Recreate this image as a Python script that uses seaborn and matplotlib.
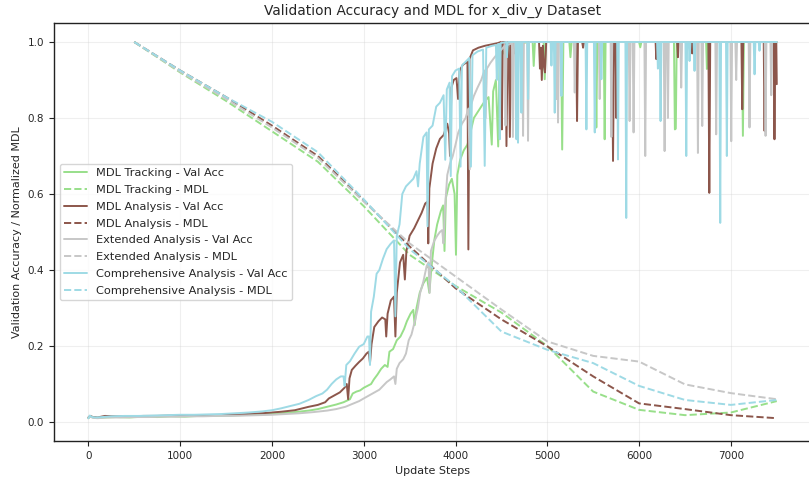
import matplotlib
matplotlib.use("Agg")
import matplotlib.pyplot as plt
import seaborn as sns
import pandas as pd

# ---------------- data ----------------
mdl_steps = [500, 1000, 1500, 2000, 2500, 3000, 3500, 4000, 4500, 5000, 5500, 6000, 6500, 7000, 7500]

tracking_mdl = [1.0, 0.92, 0.845, 0.765, 0.685, 0.568, 0.44, 0.358, 0.288, 0.20, 0.08, 0.032, 0.018, 0.025, 0.055]
analysis_mdl = [1.0, 0.925, 0.855, 0.78, 0.70, 0.583, 0.462, 0.352, 0.27, 0.199, 0.12, 0.049, 0.034, 0.018, 0.010]
extended_mdl = [1.0, 0.922, 0.85, 0.775, 0.695, 0.58, 0.47, 0.383, 0.296, 0.212, 0.174, 0.159, 0.099, 0.076, 0.060]
comprehensive_mdl = [1.0, 0.925, 0.855, 0.79, 0.71, 0.586, 0.455, 0.357, 0.238, 0.19, 0.155, 0.095, 0.058, 0.045, 0.058]

tracking_acc = [
    (0, 0.010), (20, 0.015), (50, 0.012), (100, 0.011), (200, 0.012), (300, 0.013), (450, 0.012),
    (600, 0.014), (750, 0.013), (900, 0.015), (1050, 0.014), (1200, 0.016), (1350, 0.016),
    (1500, 0.017), (1650, 0.018), (1800, 0.019), (1950, 0.021), (2100, 0.023), (2250, 0.026),
    (2400, 0.030), (2500, 0.034), (2600, 0.040), (2700, 0.046), (2780, 0.052), (2850, 0.060),
    (2880, 0.075), (2920, 0.080), (2960, 0.083), (3000, 0.090), (3040, 0.095), (3080, 0.100),
    (3110, 0.112), (3150, 0.125), (3190, 0.140), (3230, 0.150), (3260, 0.145), (3280, 0.185),
    (3320, 0.192), (3360, 0.215), (3400, 0.225), (3440, 0.245), (3470, 0.265), (3510, 0.285),
    (3540, 0.295), (3555, 0.255), (3575, 0.300), (3610, 0.340), (3650, 0.365), (3690, 0.380),
    (3715, 0.340), (3735, 0.400), (3770, 0.480), (3800, 0.520), (3840, 0.555), (3865, 0.570),
    (3880, 0.450), (3895, 0.590), (3930, 0.625), (3960, 0.640), (3990, 0.600), (4005, 0.440),
    (4020, 0.650), (4050, 0.690), (4090, 0.715), (4130, 0.730), (4170, 0.770), (4200, 0.800),
    (4240, 0.815), (4280, 0.830), (4320, 0.845), (4360, 0.855), (4395, 0.730), (4410, 0.870),
    (4440, 0.900), (4465, 0.725), (4480, 0.960), (4520, 0.975), (4560, 0.955), (4580, 0.985),
    (4640, 0.975), (4660, 0.990), (4720, 0.995), (4780, 1.0),
    (4840, 1.0), (4852, 0.937), (4865, 1.0), (4960, 1.0), (4972, 0.902), (4985, 1.0),
    (5150, 1.0), (5162, 0.717), (5175, 1.0), (5240, 1.0), (5252, 0.960), (5265, 1.0),
    (5525, 1.0), (5534, 0.775), (5545, 1.0), (5615, 1.0), (5625, 0.744), (5635, 1.0),
    (6000, 1.0), (6013, 0.986), (6025, 1.0), (6380, 1.0), (6390, 0.770), (6400, 0.772), (6410, 1.0),
    (6730, 1.0), (6739, 0.929), (6750, 1.0), (7120, 1.0), (7131, 0.753), (7142, 1.0), (7500, 1.0),
]

analysis_acc = [
    (0, 0.012), (20, 0.016), (50, 0.013), (100, 0.012), (180, 0.016), (300, 0.015), (450, 0.015),
    (600, 0.016), (750, 0.016), (900, 0.017), (1050, 0.017), (1200, 0.017), (1350, 0.018),
    (1500, 0.019), (1650, 0.020), (1800, 0.022), (1950, 0.024), (2100, 0.027), (2250, 0.031),
    (2400, 0.040), (2500, 0.045), (2580, 0.052), (2620, 0.062), (2680, 0.070), (2740, 0.078),
    (2790, 0.090), (2815, 0.100), (2830, 0.060), (2845, 0.115), (2870, 0.137), (2910, 0.148),
    (2950, 0.158), (2990, 0.167), (3030, 0.180), (3055, 0.185), (3068, 0.155), (3085, 0.205),
    (3115, 0.250), (3160, 0.265), (3200, 0.275), (3235, 0.270), (3245, 0.225), (3260, 0.285),
    (3295, 0.320), (3330, 0.330), (3345, 0.225), (3360, 0.340), (3395, 0.420), (3430, 0.440),
    (3448, 0.375), (3465, 0.450), (3500, 0.490), (3550, 0.510), (3590, 0.530), (3630, 0.550),
    (3670, 0.575), (3695, 0.580), (3703, 0.470), (3715, 0.615), (3750, 0.680), (3790, 0.720),
    (3830, 0.745), (3870, 0.755), (3910, 0.785), (3930, 0.760), (3940, 0.700), (3955, 0.880),
    (3980, 0.900), (4010, 0.905), (4028, 0.850), (4045, 0.925), (4080, 0.940), (4110, 0.945),
    (4130, 0.948), (4140, 0.454), (4152, 0.955), (4190, 0.978), (4250, 0.985), (4320, 0.990),
    (4400, 0.994), (4460, 0.997), (4495, 1.0), (4505, 0.770), (4515, 1.0), (4545, 1.0),
    (4555, 0.726), (4568, 1.0), (4580, 1.0), (4592, 0.750), (4605, 1.0), (4630, 1.0),
    (4640, 0.970), (4650, 1.0), (4910, 1.0), (4920, 0.930), (4930, 0.985), (4940, 0.900),
    (4952, 0.990), (4962, 0.940), (4975, 0.920), (4988, 1.0), (5315, 1.0), (5324, 0.792),
    (5334, 1.0), (5380, 1.0), (5390, 0.985), (5400, 1.0), (5705, 1.0), (5716, 0.687),
    (5727, 1.0), (5745, 1.0), (5752, 0.800), (5760, 1.0), (6180, 1.0), (6187, 0.955),
    (6195, 1.0), (6415, 1.0), (6423, 0.960), (6431, 1.0), (6570, 1.0), (6579, 0.970),
    (6588, 1.0), (6755, 1.0), (6765, 0.603), (6775, 1.0), (7115, 1.0), (7124, 0.823),
    (7134, 1.0), (7358, 1.0), (7367, 0.766), (7376, 1.0), (7466, 1.0), (7475, 0.744),
    (7485, 1.0), (7495, 1.0), (7500, 0.889),
]

extended_acc = [
    (0, 0.010), (20, 0.014), (50, 0.011), (100, 0.010), (200, 0.012), (350, 0.012), (500, 0.013),
    (650, 0.013), (800, 0.014), (950, 0.014), (1100, 0.015), (1250, 0.015), (1400, 0.016),
    (1550, 0.016), (1700, 0.017), (1850, 0.018), (2000, 0.019), (2150, 0.021), (2300, 0.023),
    (2450, 0.026), (2600, 0.030), (2700, 0.034), (2800, 0.040), (2880, 0.048), (2950, 0.055),
    (3000, 0.062), (3060, 0.070), (3120, 0.078), (3170, 0.085), (3210, 0.095), (3250, 0.105),
    (3290, 0.112), (3330, 0.120), (3345, 0.100), (3360, 0.140), (3390, 0.155), (3430, 0.165),
    (3460, 0.180), (3490, 0.215), (3520, 0.230), (3560, 0.268), (3590, 0.300), (3615, 0.340),
    (3650, 0.370), (3685, 0.410), (3705, 0.420), (3718, 0.340), (3732, 0.450), (3765, 0.475),
    (3800, 0.490), (3830, 0.500), (3855, 0.505), (3868, 0.470), (3885, 0.560), (3910, 0.650),
    (3940, 0.680), (3970, 0.700), (4000, 0.730), (4030, 0.762), (4070, 0.785), (4110, 0.800),
    (4140, 0.825), (4155, 0.665), (4170, 0.835), (4200, 0.858), (4240, 0.880), (4280, 0.900),
    (4315, 0.925), (4328, 0.800), (4342, 0.930), (4380, 0.945), (4420, 0.958), (4460, 0.970),
    (4500, 0.980), (4535, 0.990), (4545, 0.780), (4556, 0.992), (4600, 0.995), (4615, 1.0),
    (4625, 0.750), (4638, 1.0),
    (4727, 1.0), (4736, 0.753), (4745, 1.0), (4781, 1.0), (4790, 0.740), (4800, 1.0),
    (5090, 1.0), (5099, 0.850), (5108, 1.0), (5117, 0.788), (5127, 1.0), (5290, 1.0),
    (5299, 0.867), (5308, 1.0), (5562, 1.0), (5571, 0.850), (5580, 1.0), (5690, 1.0),
    (5698, 0.750), (5707, 1.0), (5888, 1.0), (5897, 0.792), (5906, 1.0), (5931, 1.0),
    (5940, 0.762), (5949, 1.0), (6058, 1.0), (6067, 0.700), (6076, 1.0), (6269, 1.0),
    (6278, 0.713), (6287, 1.0), (6305, 1.0), (6314, 0.800), (6323, 1.0), (6450, 1.0),
    (6459, 0.880), (6468, 1.0), (6632, 1.0), (6641, 0.708), (6650, 1.0), (6679, 1.0),
    (6688, 0.779), (6697, 1.0), (6831, 1.0), (6840, 0.757), (6849, 1.0), (6995, 1.0),
    (7004, 0.739), (7013, 1.0), (7049, 1.0), (7058, 0.900), (7067, 1.0), (7194, 1.0),
    (7203, 0.775), (7212, 1.0), (7369, 1.0), (7378, 0.753), (7387, 1.0), (7431, 1.0),
    (7440, 0.860), (7449, 1.0), (7500, 1.0),
]

comprehensive_acc = [
    (0, 0.010), (15, 0.017), (40, 0.013), (80, 0.012), (150, 0.013), (250, 0.015), (400, 0.016),
    (550, 0.016), (700, 0.017), (850, 0.018), (1000, 0.019), (1150, 0.019), (1300, 0.020),
    (1450, 0.021), (1600, 0.023), (1750, 0.025), (1900, 0.028), (2000, 0.031), (2100, 0.036),
    (2200, 0.042), (2300, 0.048), (2400, 0.058), (2480, 0.068), (2550, 0.075), (2600, 0.085),
    (2650, 0.100), (2700, 0.112), (2750, 0.120), (2780, 0.120), (2792, 0.095), (2810, 0.150),
    (2850, 0.160), (2900, 0.180), (2950, 0.198), (3000, 0.205), (3040, 0.225), (3058, 0.225),
    (3068, 0.150), (3080, 0.290), (3110, 0.330), (3140, 0.390), (3170, 0.400), (3210, 0.430),
    (3250, 0.455), (3290, 0.468), (3330, 0.478), (3345, 0.278), (3360, 0.490), (3390, 0.520),
    (3420, 0.600), (3460, 0.620), (3500, 0.630), (3540, 0.640), (3575, 0.660), (3592, 0.620),
    (3610, 0.680), (3650, 0.750), (3685, 0.762), (3695, 0.515), (3710, 0.770), (3750, 0.780),
    (3790, 0.830), (3830, 0.840), (3870, 0.860), (3888, 0.690), (3905, 0.875), (3935, 0.893),
    (3948, 0.647), (3962, 0.910), (4000, 0.925), (4040, 0.930), (4055, 0.672), (4070, 0.938),
    (4110, 0.948), (4150, 0.958), (4168, 0.672), (4185, 0.965), (4240, 0.975), (4300, 0.980),
    (4318, 0.674), (4335, 0.985), (4400, 0.990), (4440, 0.992), (4450, 0.900), (4460, 0.994),
    (4475, 0.995), (4482, 0.744), (4492, 0.997), (4550, 1.0), (4560, 0.960), (4570, 1.0),
    (4655, 1.0), (4664, 0.744), (4672, 1.0), (4681, 0.735), (4690, 1.0), (4709, 1.0),
    (4718, 0.814), (4727, 1.0), (4782, 1.0), (4791, 0.850), (4800, 1.0), (5036, 1.0),
    (5045, 0.938), (5054, 1.0), (5072, 1.0), (5081, 0.814), (5090, 1.0), (5145, 1.0),
    (5154, 0.858), (5163, 1.0), (5417, 1.0), (5426, 0.770), (5435, 1.0), (5508, 1.0),
    (5517, 0.762), (5526, 1.0), (5580, 1.0), (5589, 0.902), (5598, 1.0), (5761, 1.0),
    (5770, 0.691), (5779, 1.0), (5851, 1.0), (5860, 0.537), (5869, 1.0), (6196, 1.0),
    (6205, 0.930), (6214, 1.0), (6225, 1.0), (6234, 0.792), (6243, 1.0), (6505, 1.0),
    (6514, 0.700), (6523, 1.0), (6541, 1.0), (6550, 0.950), (6559, 1.0), (6595, 1.0),
    (6604, 0.924), (6613, 1.0), (6875, 1.0), (6884, 0.524), (6893, 1.0), (6947, 1.0),
    (6956, 0.700), (6965, 1.0), (7249, 1.0), (7258, 0.915), (7267, 1.0), (7303, 1.0),
    (7312, 0.977), (7321, 1.0), (7500, 1.0),
]

run_names = ["MDL Tracking", "MDL Analysis", "Extended Analysis", "Comprehensive Analysis"]
run_colors = ["#98df8a", "#8c564b", "#c7c7c7", "#9edae5"]
acc_series = [tracking_acc, analysis_acc, extended_acc, comprehensive_acc]
mdl_series = [tracking_mdl, analysis_mdl, extended_mdl, comprehensive_mdl]

# ---------------- plot ----------------
sns.set_style("ticks")
plt.rcParams["font.family"] = ["DejaVu Sans"]

fig = plt.figure(figsize=(8.09, 4.78), dpi=100)
ax = fig.add_axes([0.0667, 0.0774, 0.936, 0.8745])

for name, color, acc, mdl in zip(run_names, run_colors, acc_series, mdl_series):
    df = pd.DataFrame(acc, columns=["step", "acc"])
    sns.lineplot(data=df, x="step", y="acc", color=color, linewidth=1.4,
                 label=f"{name} - Val Acc", errorbar=None, ax=ax)
    dm = pd.DataFrame({"step": mdl_steps, "mdl": mdl})
    sns.lineplot(data=dm, x="step", y="mdl", color=color, linewidth=1.4,
                 linestyle="--", label=f"{name} - MDL", errorbar=None, ax=ax)

ax.set_xlim(-375, 7875)
ax.set_ylim(-0.05, 1.05)
ax.set_xticks([0, 1000, 2000, 3000, 4000, 5000, 6000, 7000])
ax.set_yticks([0.0, 0.2, 0.4, 0.6, 0.8, 1.0])
ax.grid(True, alpha=0.3)
for s in ax.spines.values():
    s.set_visible(True)
    s.set_color("#222222")
    s.set_linewidth(1.0)
ax.tick_params(labelsize=7.5, length=3.5, color="#222222")
ax.set_xlabel("Update Steps", fontsize=8)
ax.set_ylabel("Validation Accuracy / Normalized MDL", fontsize=8)
ax.set_title("Validation Accuracy and MDL for x_div_y Dataset", fontsize=9.9)
ax.legend(loc="center left", fontsize=8.2, labelspacing=0.6, framealpha=0.8)

fig.savefig("out.png", dpi=100)
